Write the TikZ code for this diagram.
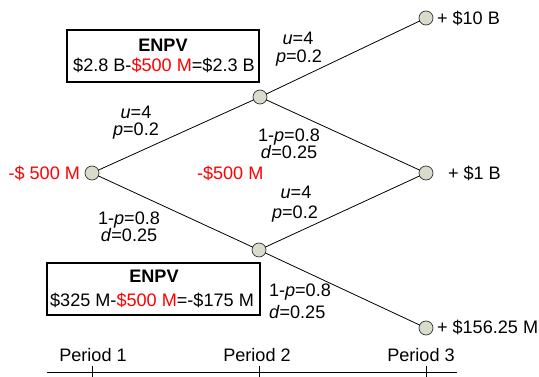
\documentclass[tikz,border=0pt]{standalone}
\usepackage{fontspec}
\setmainfont{Liberation Sans}
\definecolor{nodefill}{RGB}{216,220,202}
\definecolor{cashred}{RGB}{255,0,0}
\begin{document}
\begin{tikzpicture}[x=1pt,y=-1pt,
  every node/.style={inner sep=0pt,outer sep=0pt,font=\fontsize{18.1}{21}\selectfont},
  state/.style={circle,draw=black!80,line width=0.7pt,fill=nodefill,minimum size=14pt},
  branch/.style={line width=0.8pt,black},
  lbl/.style={anchor=base},
  lblw/.style={anchor=base west},
  infobox/.style={draw,line width=1.1pt,minimum width=#1,minimum height=52pt},
  red/.style={text=cashred}]
\useasboundingbox (0,0) rectangle (539,377);

% lattice states
\node[state] (s0)  at (92,173) {};
\node[state] (su)  at (260,97) {};
\node[state] (sd)  at (259,250) {};
\node[state] (suu) at (426,18) {};
\node[state] (sud) at (426,173) {};
\node[state] (sdd) at (426,328) {};

% branches
\draw[branch] (s0) -- (su);
\draw[branch] (s0) -- (sd);
\draw[branch] (su) -- (suu);
\draw[branch] (su) -- (sud);
\draw[branch] (sd) -- (sud);
\draw[branch] (sd) -- (sdd);

% values at the states
\node[anchor=base east,red] (v0) at (80,180) {-\$ 500 M};
\node[lblw,red] (v1) at (197,180) {-\$500 M};
\node[lblw] (vuu) at (437,25) {+ \$10 B};
\node[lblw] (vud) at (448,180) {+ \$1 B};
\node[lblw] (vdd) at (437,334) {+ \$156.25 M};

% branch probabilities
\node[lbl] (a1) at (298,45) {\textit{u}=4};
\node[lbl] (a2) at (299,63) {\textit{p}=0.2};
\node[lbl] (b1) at (136,119) {\textit{u}=4};
\node[lbl] (b2) at (136,136) {\textit{p}=0.2};
\node[lbl] (c1) at (289,142) {1-\textit{p}=0.8};
\node[lbl] (c2) at (289,159) {\textit{d}=0.25};
\node[lbl] (d1) at (129,225) {1-\textit{p}=0.8};
\node[lbl] (d2) at (129,242) {\textit{d}=0.25};
\node[lbl] (e1) at (296,199) {\textit{u}=4};
\node[lbl] (e2) at (295,219) {\textit{p}=0.2};
\node[lblw] (f1) at (269,297) {1-\textit{p}=0.8};
\node[lblw] (f2) at (269,319) {\textit{d}=0.25};

% ENPV boxes
\node[infobox=192pt] (boxu) at (163,56) {};
\node[lbl] (boxu1) at (163,52) {\textbf{ENPV}};
\node[lbl] (boxu2) at (164,72) {\$2.8 B-\textcolor{cashred}{\$500 M}=\$2.3 B};
\node[infobox=213pt] (boxd) at (153.5,289) {};
\node[lbl] (boxd1) at (154,283) {\textbf{ENPV}};
\node[lbl] (boxd2) at (152,306) {\$325 M-\textcolor{cashred}{\$500 M}=-\$175 M};

% time axis
\coordinate (axL) at (47,372);
\coordinate (axR) at (457,372);
\draw[line width=0.8pt] (axL) -- (axR);
\foreach \x/\t [count=\i] in {92/1,259/2,426/3}{
  \coordinate (tk\i) at (\x,372);
  \draw[line width=0.8pt] ([yshift=-6pt]tk\i) -- ([yshift=6pt]tk\i);
}
\node[lbl] (p1) at (93,361) {Period 1};
\node[lbl] (p2) at (257,361) {Period 2};
\node[lbl] (p3) at (421,361) {Period 3};
\end{tikzpicture}
\end{document}
